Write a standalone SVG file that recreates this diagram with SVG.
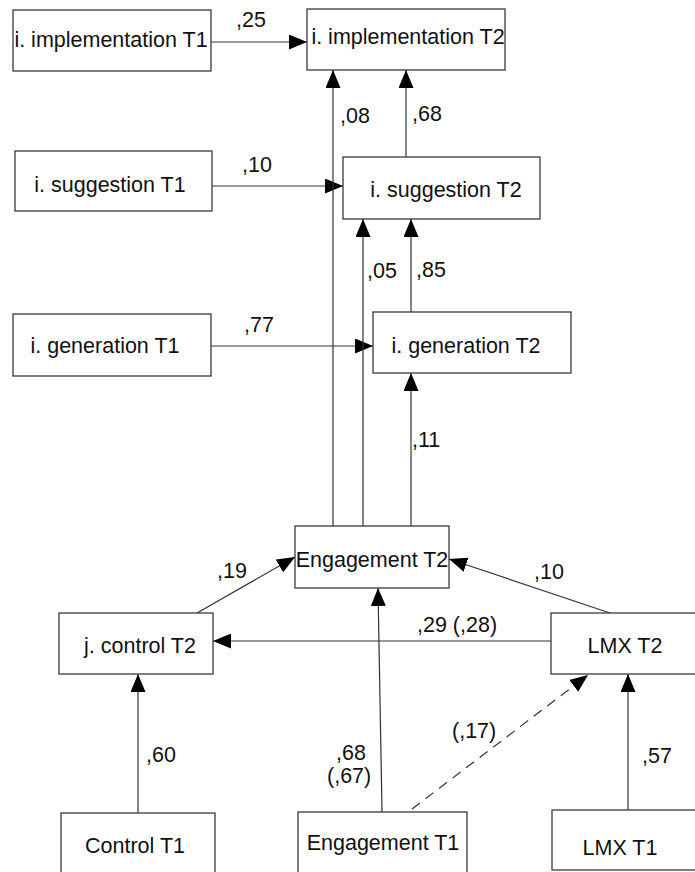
<svg xmlns="http://www.w3.org/2000/svg" width="695" height="872" viewBox="0 0 695 872">
<style>
.box{fill:#fff;stroke:#3a3a3a;stroke-width:1.3}
.t{font-family:"Liberation Sans",Arial,sans-serif;font-size:21.5px;fill:#111}
.c{text-anchor:middle}
.ln{stroke:#333;stroke-width:1.2;fill:none;marker-end:url(#ah)}
.dash{stroke-dasharray:10,7}
</style>
<defs>
<marker id="ah" markerUnits="userSpaceOnUse" markerWidth="18" markerHeight="15" refX="18" refY="7.5" orient="auto">
<path d="M0,0 L18,7.5 L0,15 z" fill="#000"/>
</marker>
</defs>
<rect width="695" height="872" fill="#fff"/>
<g id="connectors">
<line class="ln" x1="211" y1="42" x2="307" y2="42"/>
<line class="ln" x1="212" y1="186" x2="343" y2="186"/>
<line class="ln" x1="211" y1="346" x2="373" y2="346"/>
<line class="ln" x1="333" y1="526" x2="333" y2="70"/>
<line class="ln" x1="406" y1="157" x2="406" y2="70"/>
<line class="ln" x1="363" y1="526" x2="363" y2="219"/>
<line class="ln" x1="411" y1="312" x2="411" y2="219"/>
<line class="ln" x1="411" y1="526" x2="411" y2="373"/>
<line class="ln" x1="197" y1="613" x2="295" y2="557"/>
<line class="ln" x1="610" y1="613" x2="449" y2="559"/>
<line class="ln" x1="551" y1="641" x2="213" y2="641"/>
<line class="ln" x1="382" y1="812" x2="378" y2="588"/>
<line class="ln" x1="138" y1="813" x2="138" y2="674"/>
<line class="ln" x1="628" y1="810" x2="628" y2="674"/>
<line class="ln dash" x1="412" y1="809" x2="588" y2="675"/>
</g>
<g id="labels">
<text class="t" x="236" y="27">,25</text>
<text class="t" x="242" y="172">,10</text>
<text class="t" x="244" y="332">,77</text>
<text class="t" x="340" y="123">,08</text>
<text class="t" x="412" y="121">,68</text>
<text class="t" x="367" y="278">,05</text>
<text class="t" x="416" y="277">,85</text>
<text class="t" x="412" y="447">,11</text>
<text class="t" x="217" y="578">,19</text>
<text class="t" x="534" y="579">,10</text>
<text class="t" x="417" y="632">,29 (,28)</text>
<text class="t" x="146" y="762">,60</text>
<text class="t" x="336" y="760">,68</text>
<text class="t" x="327" y="783">(,67)</text>
<text class="t" x="452" y="738">(,17)</text>
<text class="t" x="642" y="763">,57</text>
</g>
<g id="impl1"><rect class="box" x="13" y="10" width="198" height="61"/><text class="t c" x="111" y="47">i. implementation T1</text></g>
<g id="impl2"><rect class="box" x="307" y="9" width="198" height="61"/><text class="t c" x="408" y="44">i. implementation T2</text></g>
<g id="sugg1"><rect class="box" x="15" y="151" width="197" height="60"/><text class="t c" x="110" y="192">i. suggestion T1</text></g>
<g id="sugg2"><rect class="box" x="343" y="157" width="197" height="62"/><text class="t c" x="446" y="197">i. suggestion T2</text></g>
<g id="gen1"><rect class="box" x="13" y="314" width="198" height="62"/><text class="t c" x="105" y="353">i. generation T1</text></g>
<g id="gen2"><rect class="box" x="373" y="312" width="198" height="61"/><text class="t c" x="466" y="353">i. generation T2</text></g>
<g id="eng2"><rect class="box" x="295" y="526" width="154" height="62"/><text class="t c" x="372" y="567">Engagement T2</text></g>
<g id="jctrl2"><rect class="box" x="59" y="613" width="154" height="61"/><text class="t c" x="140" y="653">j. control T2</text></g>
<g id="lmx2"><rect class="box" x="551" y="613" width="150" height="61"/><text class="t c" x="625" y="653">LMX T2</text></g>
<g id="ctrl1"><rect class="box" x="61" y="813" width="154" height="70"/><text class="t c" x="135" y="853">Control T1</text></g>
<g id="eng1"><rect class="box" x="298" y="812" width="169" height="70"/><text class="t c" x="383" y="850">Engagement T1</text></g>
<g id="lmx1"><rect class="box" x="552" y="810" width="150" height="60"/><text class="t c" x="620" y="855">LMX T1</text></g>
</svg>
